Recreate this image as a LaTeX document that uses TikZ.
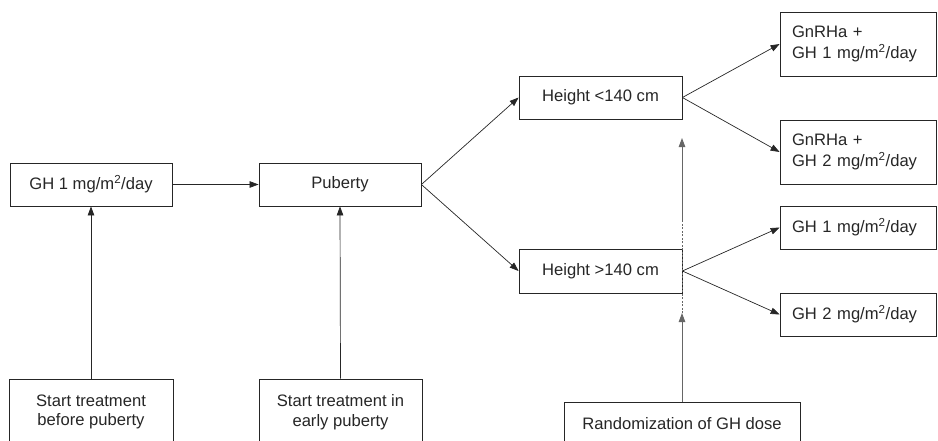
\documentclass[tikz,border=0pt]{standalone}
\usepackage{fontspec}
\setmainfont{Liberation Sans}
\usetikzlibrary{arrows.meta}
\begin{document}
\begin{tikzpicture}[x=1pt,y=-1pt,
  box/.style={draw=black!85, line width=0.8pt, rectangle, inner sep=0pt, text=black!85,
    font=\fontsize{16.6}{20.5}\selectfont, align=center},
  lbox/.style={box, align=left, text width=#1},
  arr/.style={draw=black!85, line width=0.7pt, -{Triangle[length=9pt,width=6.5pt]}},
  varr/.style={draw=black!60, line width=0.9pt, -{Triangle[length=9pt,width=6.5pt]}},
  vdash/.style={draw=black!60, line width=0.9pt, dashed, dash pattern=on 2pt off 1.5pt}]
\useasboundingbox (0,0) rectangle (938,440);
\clip (0,0) rectangle (938,440);
\node[box, minimum width=162pt, minimum height=43pt] (gh) at (91,184.5) {GH 1 mg/m\textsuperscript{2}/day};
\node[box, minimum width=162pt, minimum height=43pt] (pub) at (340,184.5) {Puberty};
\node[box, minimum width=163pt, minimum height=43pt] (hlt) at (600.5,97.5) {Height <140 cm};
\node[box, minimum width=163pt, minimum height=44pt] (hgt) at (600.5,271) {Height >140 cm};
\node[lbox=132pt, minimum width=156pt, minimum height=64pt] (g1) at (858,44) {GnRHa +\\GH 1 mg/m\textsuperscript{2}/day};
\node[lbox=132pt, minimum width=156pt, minimum height=64pt] (g2) at (858,152) {GnRHa +\\GH 2 mg/m\textsuperscript{2}/day};
\node[lbox=132pt, minimum width=156pt, minimum height=43pt] (g3) at (858,227.5) {GH 1 mg/m\textsuperscript{2}/day};
\node[lbox=132pt, minimum width=156pt, minimum height=43pt] (g4) at (858,314.5) {GH 2 mg/m\textsuperscript{2}/day};
\node[box, minimum width=164pt, minimum height=66pt, font=\fontsize{16.6}{19.5}\selectfont] (s1) at (91,412) {Start treatment\\before puberty};
\node[box, minimum width=163pt, minimum height=66pt, font=\fontsize{16.6}{19.5}\selectfont] (s2) at (340.5,412) {Start treatment in\\early puberty};
\node[box, minimum width=236pt, minimum height=43pt] (rnd) at (682,423.5) {Randomization of GH dose};
\draw[arr] (gh.east) -- (pub.west);
\draw[arr] (s1.north) -- (gh.south);
\draw[arr] (s2.north) -- (pub.south);
\draw[arr] (pub.east) -- (hlt.west);
\draw[arr] (pub.east) -- (hgt.west);
\draw[arr] (hlt.east) -- (g1.west);
\draw[arr] (hlt.east) -- (g2.west);
\draw[arr] (hgt.east) -- (g3.west);
\draw[arr] (hgt.east) -- (g4.west);
\coordinate (r1) at (682,313);
\coordinate (r2) at (682,222);
\coordinate (r3) at (682,138);
\draw[vdash] (r1) -- (r2);
\draw[varr] (rnd.north) -- (r1);
\draw[varr] (r2) -- (r3);
\end{tikzpicture}
\end{document}
